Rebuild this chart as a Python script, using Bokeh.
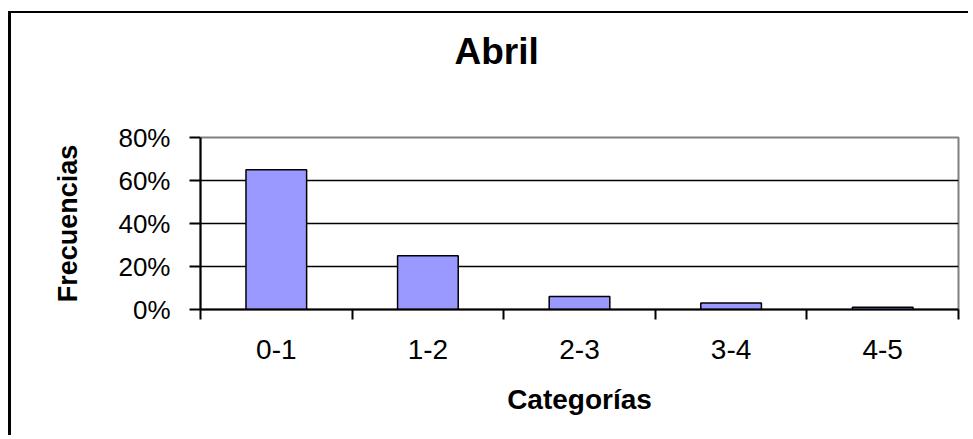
from bokeh.plotting import figure
from bokeh.models import (FixedTicker, NumeralTickFormatter, Range1d, Title, LinearAxis,
                          ColumnDataSource)
from bokeh.embed import file_html
from bokeh.resources import INLINE

# Data
categories = ["0-1", "1-2", "2-3", "3-4", "4-5"]
frequencies = [0.65, 0.25, 0.06, 0.03, 0.01]
y_ticks = [0.0, 0.2, 0.4, 0.6, 0.8]
chart_title = "Abril"

positions = [i + 0.5 for i in range(len(categories))]
source = ColumnDataSource(data=dict(x=positions, top=frequencies, cat=categories))

FONT = "Liberation Sans"

p = figure(width=960, height=424, output_backend="svg", toolbar_location=None,
           x_range=Range1d(0, len(categories)), y_range=Range1d(0, 0.8),
           min_border_left=189, min_border_right=13, min_border_top=124,
           min_border_bottom=128)
p.styles = {"margin-left": "8px", "margin-top": "11px",
            "border-left": "3px solid black", "border-top": "2px solid black"}

xa = p.xaxis[0]
ya = p.yaxis[0]

p.vbar(x="x", top="top", width=0.4, bottom=0, source=source,
       fill_color="#9999FF", line_color="black", line_width=1.5)

# invisible spacer axis above the frame to lift the title (one white tick at the left edge)
spacer = LinearAxis(ticker=FixedTicker(ticks=[0]), axis_line_color=None,
                    major_tick_out=60, major_tick_in=0, minor_tick_out=0, minor_tick_in=0,
                    major_tick_line_color="white", minor_tick_line_color=None,
                    major_label_overrides={0: ""}, major_label_standoff=0,
                    major_label_text_font_size="1px")
p.add_layout(spacer, "above")

# Title
p.title = Title(text=chart_title, align="left", offset=254, standoff=12,
                text_font=FONT, text_font_size="37px", text_font_style="bold",
                text_color="black")

# X axis: labels at centers, ticks at category boundaries
xa.ticker = FixedTicker(ticks=positions, minor_ticks=list(range(len(categories) + 1)))
xa.major_label_overrides = {pos: c for pos, c in zip(positions, categories)}
xa.major_tick_out = 0
xa.major_tick_in = 0
xa.minor_tick_out = 10
xa.minor_tick_in = 0
xa.minor_tick_line_color = "black"
xa.minor_tick_line_width = 2
xa.axis_line_color = "black"
xa.axis_line_width = 2
xa.major_label_text_font = FONT
xa.major_label_text_font_size = "28px"
xa.major_label_text_color = "black"
xa.major_label_standoff = 20
xa.axis_label = "Categorías"
xa.axis_label_text_font = FONT
xa.axis_label_text_font_size = "28px"
xa.axis_label_text_font_style = "bold"
xa.axis_label_text_color = "black"
xa.axis_label_standoff = 22

# Y axis
ya.ticker = FixedTicker(ticks=y_ticks)
ya.formatter = NumeralTickFormatter(format="0%")
ya.major_tick_out = 11
ya.major_tick_in = 0
ya.minor_tick_out = 0
ya.minor_tick_in = 0
ya.major_tick_line_color = "black"
ya.major_tick_line_width = 2
ya.axis_line_color = "black"
ya.axis_line_width = 2
ya.major_label_text_font = FONT
ya.major_label_text_font_size = "26px"
ya.major_label_text_color = "black"
ya.major_label_standoff = 19
ya.axis_label = "Frecuencias"
ya.axis_label_text_font = FONT
ya.axis_label_text_font_size = "27px"
ya.axis_label_text_font_style = "bold"
ya.axis_label_text_color = "black"
ya.axis_label_standoff = 32

p.xgrid.grid_line_color = None
p.ygrid.grid_line_color = "black"
p.ygrid.grid_line_width = 1.5
p.outline_line_color = "#808080"
p.outline_line_width = 2
p.background_fill_color = "white"
p.border_fill_color = "white"

open("out.html", "w").write(file_html(p, INLINE))
